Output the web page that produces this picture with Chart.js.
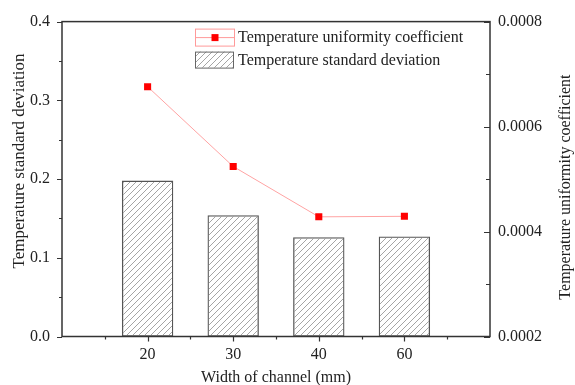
<!DOCTYPE html>
<html>
<head>
<meta charset="utf-8">
<script src="https://cdn.jsdelivr.net/npm/chart.js@4/dist/chart.umd.min.js"></script>
<style>
  html, body { margin: 0; padding: 0; background: #fff; }
  #wrap { width: 575px; height: 385px; }
</style>
</head>
<body>
<div id="wrap"><canvas id="c" width="575" height="385"></canvas></div>
<script>
// Channel widths (mm) and measured results
const channelWidths = ['20', '30', '40', '60'];
const stdDeviation = [0.198, 0.154, 0.126, 0.127];
const uniformityCoef = [0.000676, 0.000524, 0.000428, 0.000429];
const leftTicks = [0.0, 0.1, 0.2, 0.3, 0.4];
const rightTicks = [0.0002, 0.0004, 0.0006, 0.0008];
const leftTitle = 'Temperature standard deviation';
const rightTitle = 'Temperature uniformity coefficient';
const bottomTitle = 'Width of channel (mm)';

const SERIF = '"Liberation Serif", "Times New Roman", serif';
const INK = '#222';

// Diagonal hatch used to fill the bars
function hatchPattern() {
  const s = 6;
  const cv = document.createElement('canvas');
  cv.width = s; cv.height = s;
  const g = cv.getContext('2d');
  g.strokeStyle = '#8e8e8e';
  g.lineWidth = 0.8;
  g.beginPath();
  g.moveTo(0, s); g.lineTo(s, 0);
  g.moveTo(-1, 1); g.lineTo(1, -1);
  g.moveTo(s - 1, s + 1); g.lineTo(s + 1, s - 1);
  g.stroke();
  return g.createPattern(cv, 'repeat');
}
const hatch = hatchPattern();

const pointsOf = arr => arr.map((v, i) => ({ x: i + 1, y: v }));

// Frame, tick marks, vertical axis titles and legend box drawn on top of the plot
const framePlugin = {
  id: 'frame',
  afterDatasetsDraw(chart) {
    const { ctx, chartArea: a, scales } = chart;
    ctx.save();
    ctx.strokeStyle = '#333';
    ctx.lineWidth = 1.5;
    ctx.strokeRect(a.left, a.top, a.right - a.left, a.bottom - a.top);

    ctx.lineWidth = 1.2;
    ctx.beginPath();
    // left axis: ticks outward
    const y = scales.y;
    for (let k = 0; k <= 8; k++) {
      const p = Math.round(y.getPixelForValue(k * 0.05)) + 0.5;
      ctx.moveTo(a.left, p); ctx.lineTo(a.left - (k % 2 === 0 ? 5 : 3), p);
    }
    // right axis: ticks inward
    const y1 = scales.y1;
    for (let k = 2; k <= 8; k++) {
      const p = Math.round(y1.getPixelForValue(k * 0.0001)) + 0.5;
      ctx.moveTo(a.right, p); ctx.lineTo(a.right - (k % 2 === 0 ? 6 : 4), p);
    }
    // bottom axis: ticks outward
    const x = scales.x;
    for (let k = 1; k <= 9; k++) {
      const p = Math.round(x.getPixelForValue(k * 0.5)) + 0.5;
      ctx.moveTo(p, a.bottom); ctx.lineTo(p, a.bottom + (k % 2 === 0 ? 5 : 3));
    }
    ctx.stroke();

    // vertical axis titles, both reading bottom to top
    const midY = (a.top + a.bottom) / 2;
    ctx.fillStyle = INK;
    ctx.textAlign = 'center';
    ctx.textBaseline = 'middle';
    ctx.save();
    ctx.translate(20, midY - 18);
    ctx.rotate(-Math.PI / 2);
    ctx.font = '17px ' + SERIF;
    ctx.fillText(leftTitle, 0, 0);
    ctx.restore();
    ctx.save();
    ctx.translate(566, midY + 8);
    ctx.rotate(-Math.PI / 2);
    ctx.font = '16px ' + SERIF;
    ctx.fillText(rightTitle, 0, 0);
    ctx.restore();

    // legend
    const line = chart.data.datasets[0];
    const bar = chart.data.datasets[1];
    const lx = a.left + 133, ly1 = a.top + 7, ly2 = a.top + 30;
    const sw = 39, sh = 17;
    ctx.lineWidth = 1;
    ctx.strokeStyle = '#ff9a9a';
    ctx.strokeRect(lx + 0.5, ly1 + 0.5, sw, sh);
    ctx.beginPath();
    ctx.moveTo(lx, ly1 + 9); ctx.lineTo(lx + sw, ly1 + 9);
    ctx.stroke();
    ctx.fillStyle = '#ff0000';
    ctx.fillRect(lx + sw / 2 - 3.5 + 0.5, ly1 + 9 - 3.5, 7, 7);

    ctx.fillStyle = hatch;
    ctx.fillRect(lx, ly2, sw, 16);
    ctx.strokeStyle = '#666';
    ctx.strokeRect(lx + 0.5, ly2 + 0.5, sw - 1, 16);

    ctx.fillStyle = INK;
    ctx.font = '16px ' + SERIF;
    ctx.textBaseline = 'middle';
    ctx.textAlign = 'left';
    ctx.fillText(line.label, lx + sw + 4, ly1 + 9);
    ctx.fillText(bar.label, lx + sw + 4, ly2 + 9);
    ctx.restore();
  }
};

new Chart(document.getElementById('c'), {
  type: 'bar',
  data: {
    datasets: [
      {
        type: 'line',
        label: rightTitle,
        data: pointsOf(uniformityCoef),
        yAxisID: 'y1',
        borderColor: '#ffa3a3',
        borderWidth: 1,
        pointStyle: 'rect',
        pointRadius: 5,
        pointBackgroundColor: '#ff0000',
        pointBorderWidth: 0,
        tension: 0,
        order: 0
      },
      {
        type: 'bar',
        label: leftTitle,
        data: pointsOf(stdDeviation),
        yAxisID: 'y',
        backgroundColor: hatch,
        borderColor: '#555',
        borderWidth: 1.3,
        borderSkipped: false,
        barPercentage: 0.6,
        categoryPercentage: 1,
        order: 1
      }
    ]
  },
  options: {
    responsive: false,
    animation: false,
    layout: { padding: { top: 21, left: 0, right: 0, bottom: 0 } },
    plugins: { legend: { display: false }, tooltip: { enabled: false } },
    scales: {
      x: {
        type: 'linear',
        offset: false,
        min: 0, max: 5,
        grid: { display: false, drawTicks: false },
        border: { display: false },
        ticks: {
          stepSize: 1,
          padding: 9,
          color: INK,
          font: { family: SERIF, size: 16 },
          maxRotation: 0,
          callback: v => (v >= 1 && v <= channelWidths.length && Number.isInteger(v)) ? channelWidths[v - 1] : ''
        },
        title: {
          display: true,
          text: bottomTitle,
          color: INK,
          font: { family: SERIF, size: 16, lineHeight: 1 },
          padding: { top: 0, bottom: -1 }
        },
        afterFit: s => { s.height = 48.5; }
      },
      y: {
        position: 'left',
        min: leftTicks[0], max: leftTicks[leftTicks.length - 1],
        grid: { display: false, drawTicks: false },
        border: { display: false },
        afterBuildTicks: s => { s.ticks = leftTicks.map(v => ({ value: v })); },
        ticks: {
          padding: 12,
          color: INK,
          font: { family: SERIF, size: 16 },
          callback: v => Number(v).toFixed(1)
        },
        afterFit: s => { s.width = 62; }
      },
      y1: {
        position: 'right',
        min: rightTicks[0], max: rightTicks[rightTicks.length - 1],
        grid: { display: false, drawTicks: false },
        border: { display: false },
        afterBuildTicks: s => { s.ticks = rightTicks.map(v => ({ value: v })); },
        ticks: {
          padding: 8,
          color: INK,
          font: { family: SERIF, size: 16 },
          callback: v => Number(v).toFixed(4)
        },
        afterFit: s => { s.width = 85; }
      }
    }
  },
  plugins: [framePlugin]
});
</script>
</body>
</html>
